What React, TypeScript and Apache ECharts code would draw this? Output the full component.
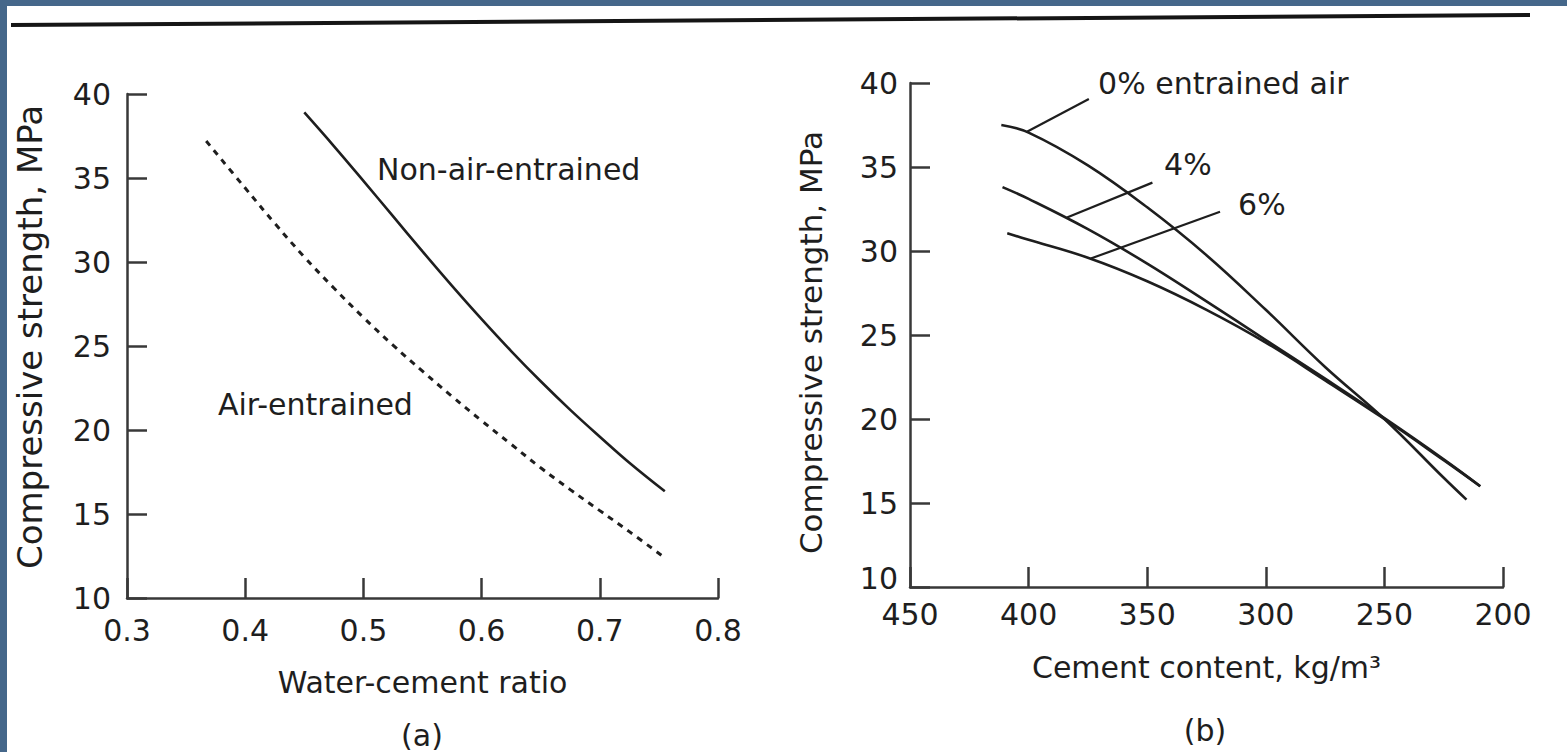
import React, { useEffect, useRef } from "react";
import * as echarts from "echarts";

// ---- axes / ticks ----
const strengthTicks = [10, 15, 20, 25, 30, 35, 40];
const wcrTicks = [0.3, 0.4, 0.5, 0.6, 0.7, 0.8];
const cementTicks = [450, 400, 350, 300, 250, 200];

// ---- panel (a): strength vs water-cement ratio ----
const nonAirWcr = [0.45, 0.475, 0.5, 0.525, 0.55, 0.575, 0.6, 0.625, 0.65, 0.675, 0.7, 0.725, 0.755];
const nonAirStrength = [38.9, 36.9, 34.83, 32.73, 30.63, 28.58, 26.6, 24.7, 22.9, 21.2, 19.6, 18.05, 16.35];
const airWcr = [0.367, 0.4, 0.425, 0.45, 0.475, 0.5, 0.525, 0.55, 0.575, 0.6, 0.625, 0.65, 0.675, 0.7, 0.725, 0.753];
const airStrength = [37.2, 34.4, 32.3, 30.3, 28.45, 26.7, 25.05, 23.5, 22.0, 20.55, 19.15, 17.75, 16.45, 15.2, 13.95, 12.5];

// ---- panel (b): strength vs cement content ----
const air0Cement = [411.5, 400, 375, 350, 325, 300, 275, 250, 225, 215.4];
const air0Strength = [37.5, 37.05, 35.1, 32.6, 29.75, 26.5, 23.1, 20.0, 16.5, 15.2];
const air4Cement = [411, 400, 375, 350, 325, 300, 275, 250, 225, 209.6];
const air4Strength = [33.8, 33.1, 31.3, 29.25, 27.0, 24.7, 22.4, 20.05, 17.6, 16.0];
const air6Cement = [409, 400, 375, 350, 325, 300, 275, 250, 225, 209.6];
const air6Strength = [31.05, 30.67, 29.6, 28.2, 26.5, 24.55, 22.3, 20.0, 17.55, 16.0];

// leader lines (data coords) and their labels
const leader0 = [[400.7, 37.1], [374.6, 39.05]];
const leader4 = [[383.8, 32.0], [347.8, 34.07]];
const leader6 = [[373.8, 29.55], [319.3, 32.34]];
const labelsB = [
  { name: "0% entrained air", value: [370.7, 40.0] },
  { name: "4%", value: [342.9, 35.12] },
  { name: "6%", value: [311.7, 32.74] },
];
const labelsA = [
  { name: "Non-air-entrained", value: [0.5115, 35.48] },
  { name: "Air-entrained", value: [0.377, 21.49] },
];

const FONT = "DejaVu Sans";
const INK = "#1e1e1e";
const AXIS = "#383838";

const zip = (xs: number[], ys: number[]) => xs.map((x, i) => [x, ys[i]]);

export default function App() {
  const ref = useRef<HTMLDivElement>(null);
  useEffect(() => {
    document.body.style.margin = "0";
    const chart = echarts.init(ref.current!, null, { renderer: "svg" });

    const lineStyle = { color: AXIS, width: 2.5 };
    const baseAxis = {
      type: "value",
      axisLine: { show: true, onZero: false, lineStyle },
      axisTick: { show: true, inside: true, length: 20, lineStyle },
      splitLine: { show: false },
      nameLocation: "middle",
    };
    const tickFont = { fontFamily: FONT, fontSize: 30, color: INK, lineHeight: 24 };

    const curve = (xi: number, data: number[][], dashed = false) => ({
      type: "line",
      xAxisIndex: xi,
      yAxisIndex: xi,
      data,
      smooth: 0.4,
      symbol: "none",
      silent: true,
      lineStyle: { color: INK, width: dashed ? 3 : 2.6, type: dashed ? [6, 6] : "solid" },
    });
    const leader = (data: number[][]) => ({
      type: "line",
      xAxisIndex: 1,
      yAxisIndex: 1,
      data,
      symbol: "none",
      silent: true,
      lineStyle: { color: INK, width: 2.2 },
    });
    const labels = (xi: number, data: any[]) => ({
      type: "scatter",
      xAxisIndex: xi,
      yAxisIndex: xi,
      data,
      symbolSize: 0,
      silent: true,
      clip: false,
      itemStyle: { opacity: 1 },
      label: {
        show: true,
        position: "right",
        distance: 0,
        formatter: "{b}",
        fontFamily: FONT,
        fontSize: 30,
        color: INK,
        opacity: 1,
      },
    });

    chart.setOption({
      animation: false,
      backgroundColor: "transparent",
      grid: [
        { left: 127, top: 94, width: 591, height: 504 },
        { left: 910, top: 83, width: 593, height: 504 },
      ],
      xAxis: [
        {
          ...baseAxis,
          gridIndex: 0,
          min: wcrTicks[0],
          max: wcrTicks[wcrTicks.length - 1],
          interval: 0.1,
          axisLabel: { ...tickFont, margin: 20, formatter: (v: number) => v.toFixed(1) },
          name: "Water-cement ratio",
          nameGap: 69,
          nameTextStyle: { fontFamily: FONT, fontSize: 30, color: INK },
        },
        {
          ...baseAxis,
          gridIndex: 1,
          min: cementTicks[cementTicks.length - 1],
          max: cementTicks[0],
          interval: 50,
          inverse: true,
          axisLabel: { ...tickFont, margin: 15 },
          name: "Cement content, kg/m³",
          nameGap: 65,
          nameTextStyle: { fontFamily: FONT, fontSize: 30, color: INK },
        },
      ],
      yAxis: [
        {
          ...baseAxis,
          gridIndex: 0,
          min: strengthTicks[0],
          max: strengthTicks[strengthTicks.length - 1],
          interval: 5,
          axisLabel: { ...tickFont, margin: 16 },
          name: "Compressive strength, MPa",
          nameGap: 80,
          nameTextStyle: { fontFamily: FONT, fontSize: 34, color: INK, padding: [0, 0, 0, 18] },
        },
        {
          ...baseAxis,
          gridIndex: 1,
          min: strengthTicks[0],
          max: strengthTicks[strengthTicks.length - 1],
          interval: 5,
          axisLabel: {
            ...tickFont,
            margin: 12,
            formatter: (v: number) => (v === strengthTicks[0] ? `{lo|${v}}` : `${v}`),
            rich: { lo: { fontFamily: FONT, fontSize: 30, color: INK, lineHeight: 24, padding: [0, 0, 18, 0] } },
          },
          name: "Compressive strength, MPa",
          nameGap: 84,
          nameTextStyle: { fontFamily: FONT, fontSize: 31, color: INK, padding: [0, 15, 0, 0] },
        },
      ],
      graphic: [
        {
          type: "line",
          shape: { x1: 11, y1: 25, x2: 1530, y2: 15 },
          style: { stroke: "#151515", lineWidth: 4 },
        },
        {
          type: "text",
          x: 422,
          y: 735,
          style: { text: "(a)", font: `30px "${FONT}"`, fill: INK, textAlign: "center", textVerticalAlign: "middle" },
        },
        {
          type: "text",
          x: 1205,
          y: 730,
          style: { text: "(b)", font: `30px "${FONT}"`, fill: INK, textAlign: "center", textVerticalAlign: "middle" },
        },
      ],
      series: [
        curve(0, zip(nonAirWcr, nonAirStrength)),
        curve(0, zip(airWcr, airStrength), true),
        curve(1, zip(air0Cement, air0Strength)),
        curve(1, zip(air4Cement, air4Strength)),
        curve(1, zip(air6Cement, air6Strength)),
        leader(leader0),
        leader(leader4),
        leader(leader6),
        labels(0, labelsA),
        labels(1, labelsB),
      ],
    });
    return () => chart.dispose();
  }, []);

  return (
    <div style={{ position: "relative", width: 1567, height: 752, background: "#45678a", overflow: "hidden" }}>
      <div style={{ position: "absolute", left: 7, top: 6, right: 0, bottom: 0, background: "#ffffff" }} />
      <div ref={ref} style={{ position: "absolute", left: 0, top: 0, width: 1567, height: 752 }} />
    </div>
  );
}
